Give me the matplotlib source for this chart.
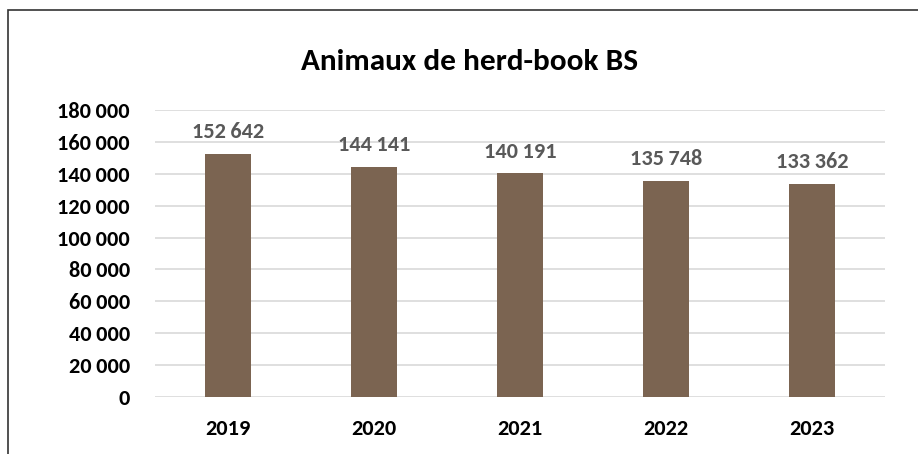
import matplotlib.pyplot as plt
from matplotlib.patches import Rectangle
from matplotlib.ticker import FuncFormatter

years = ['2019', '2020', '2021', '2022', '2023']
animals = [152642, 144141, 140191, 135748, 133362]
yticks = list(range(0, 180001, 20000))

plt.rcParams['font.family'] = ['Carlito', 'Open Sans', 'DejaVu Sans']


def fmt(v, pos=None):
    return f'{int(v):,}'.replace(',', '\u2009')


fig = plt.figure(figsize=(9.18, 4.54), dpi=100)
ax = fig.add_axes([155 / 918, 1 - 397 / 454, 730 / 918, 287 / 454])

x = range(len(years))
bars = ax.bar(x, animals, width=0.31, color='#7b6451', zorder=3)
for b, v in zip(bars, animals):
    ax.text(b.get_x() + b.get_width() / 2, v + 7500, fmt(v), ha='center', va='bottom',
            fontsize=16, fontweight='bold', color='#595959')

ax.set_xlim(-0.5, len(years) - 0.5)
ax.set_ylim(0, 180000)
ax.set_yticks(yticks)
ax.yaxis.set_major_formatter(FuncFormatter(fmt))
ax.set_xticks(list(x))
ax.set_xticklabels(years)
ax.grid(axis='y', color='#d9d9d9', linewidth=1.2, zorder=0)
for s in ax.spines.values():
    s.set_visible(False)
ax.tick_params(length=0, labelsize=16, labelcolor='black')
ax.tick_params(axis='y', pad=18)
ax.tick_params(axis='x', pad=16)
for lab in ax.get_xticklabels() + ax.get_yticklabels():
    lab.set_fontweight('bold')

fig.text(470 / 918, 1 - 62 / 454, 'Animaux de herd-book BS', ha='center', va='center',
         fontsize=22.5, fontweight='bold', color='black')

# chart frame, cut off at the right and bottom
fig.patches.append(Rectangle((8 / 918, -0.1), 1.2, 1 - 10 / 454 + 0.1,
                             transform=fig.transFigure, fill=False,
                             edgecolor='#333333', linewidth=1.2))

fig.savefig('out.png', dpi=100)
